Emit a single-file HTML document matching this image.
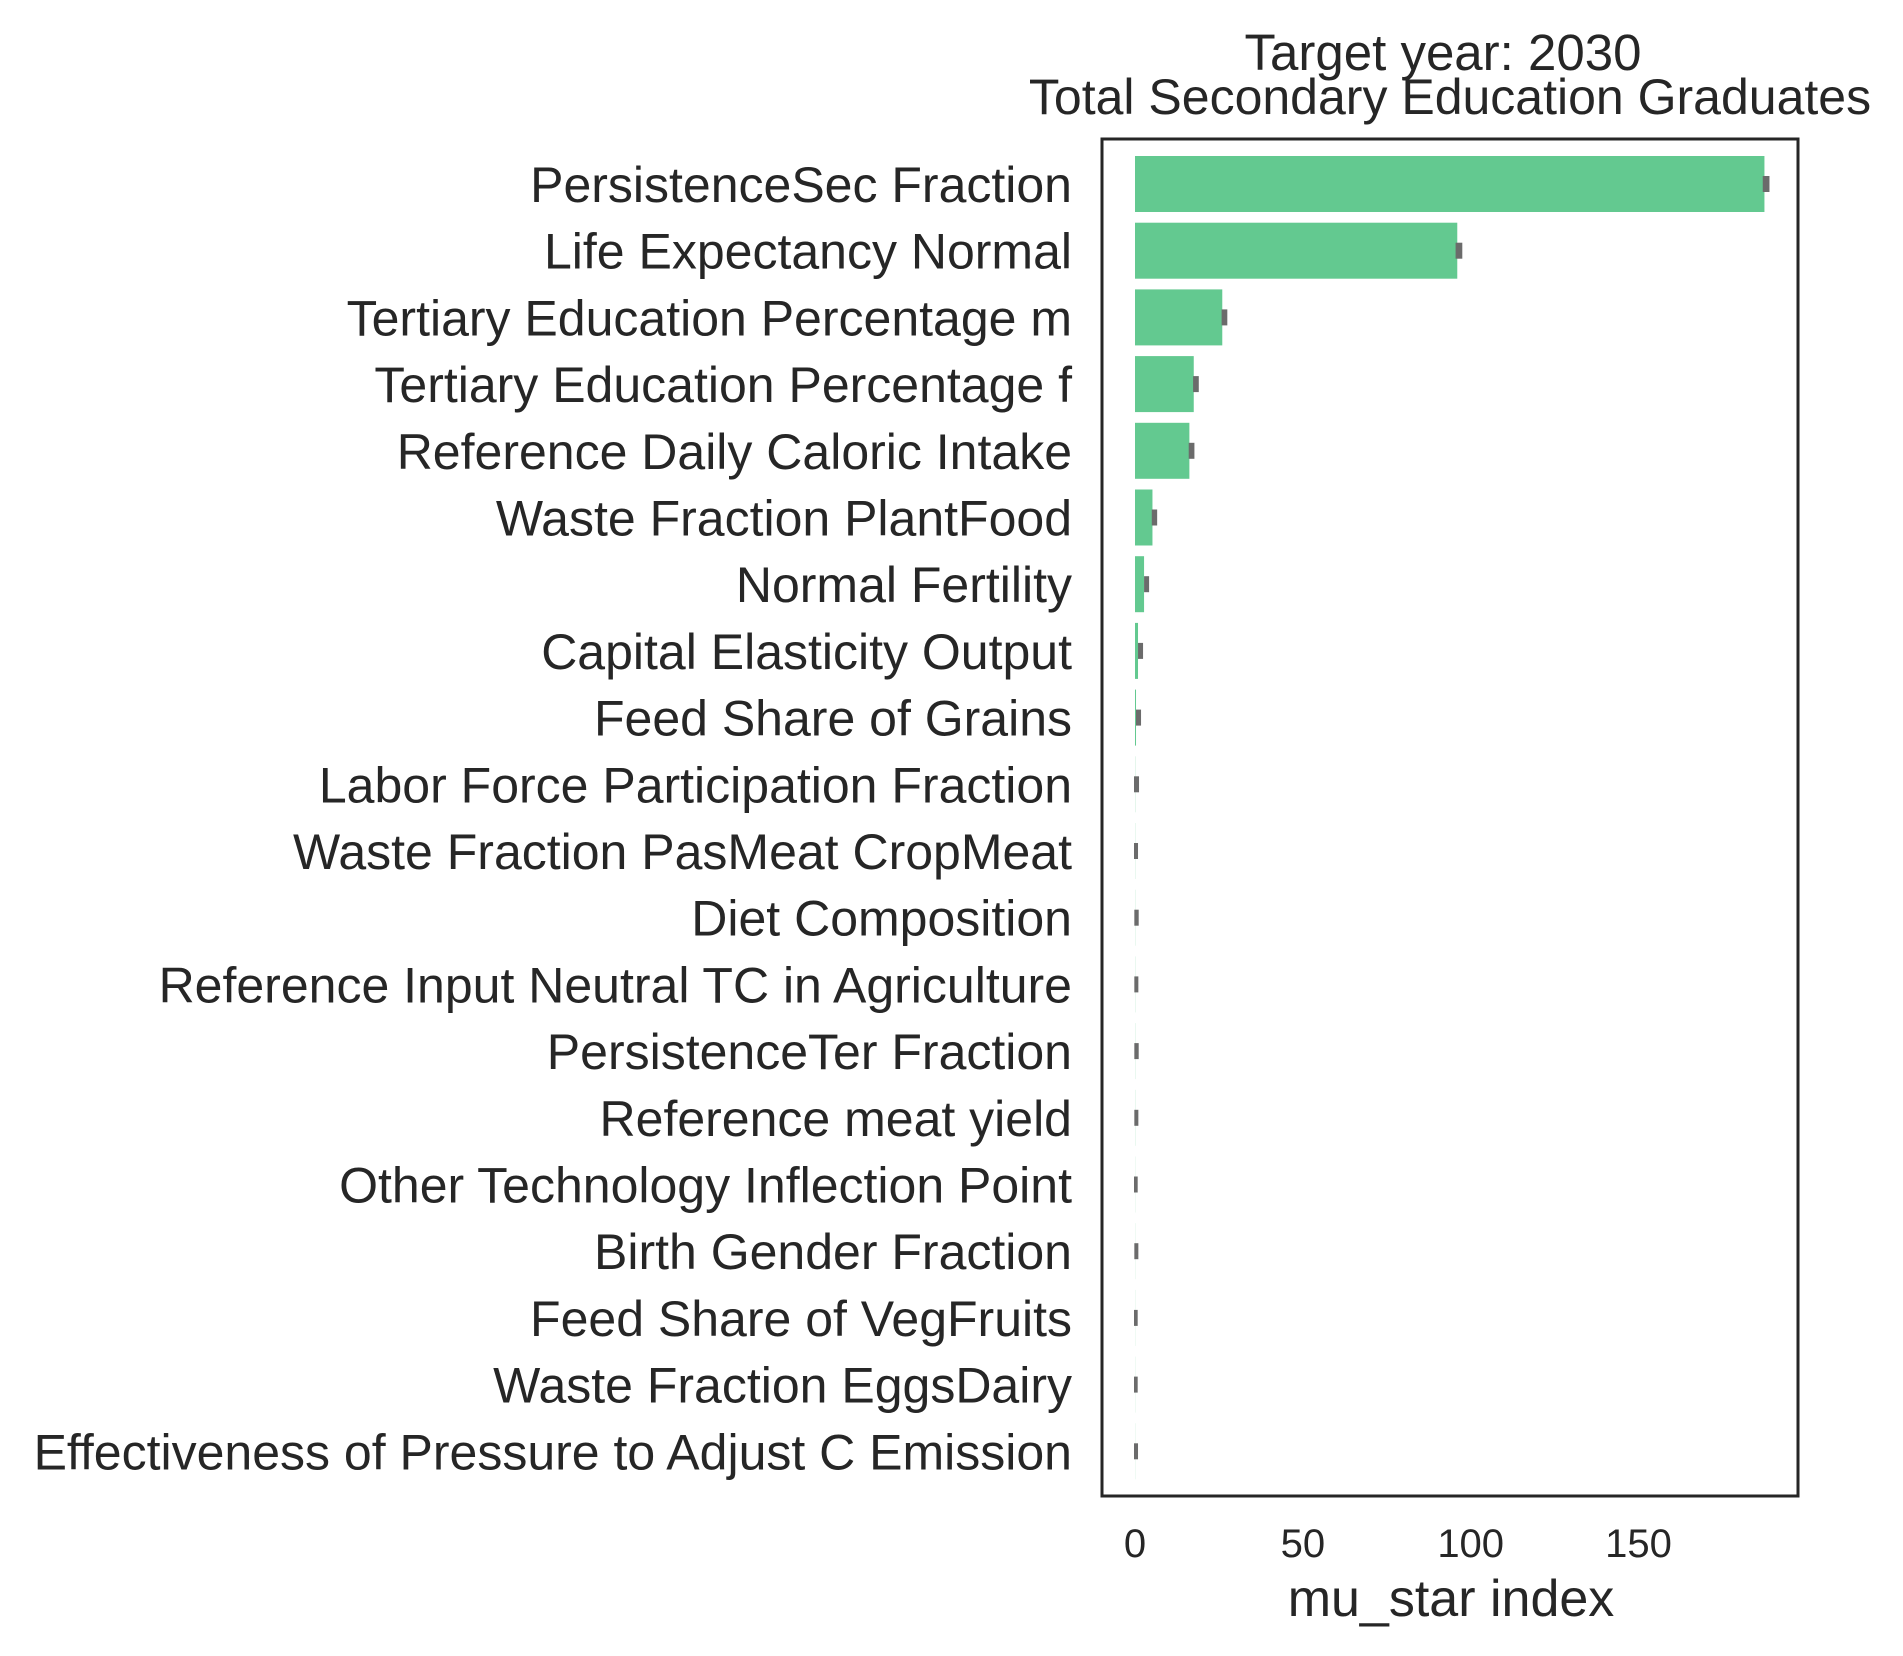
<!DOCTYPE html>
<html><head><meta charset="utf-8"><style>
html,body{margin:0;padding:0;background:#fff;}
svg{display:block;font-family:"Liberation Sans",Arial,sans-serif;}
</style></head><body>
<svg id="chart" width="1903" height="1656" viewBox="0 0 1903 1656">
<text x="1443" y="70" font-size="51" fill="#262626" text-anchor="middle">Target year: 2030</text>
<text x="1450" y="114" font-size="50" fill="#262626" text-anchor="middle">Total Secondary Education Graduates</text>
<g id="bars"></g>
<rect x="1102" y="139" width="696" height="1357" fill="none" stroke="#262626" stroke-width="3"/>
<g id="xticks"></g>
<text x="1451" y="1616" font-size="52" fill="#262626" text-anchor="middle">mu_star index</text>
</svg>
<script>
const categories = ["PersistenceSec Fraction","Life Expectancy Normal","Tertiary Education Percentage m","Tertiary Education Percentage f","Reference Daily Caloric Intake","Waste Fraction PlantFood","Normal Fertility","Capital Elasticity Output","Feed Share of Grains","Labor Force Participation Fraction","Waste Fraction PasMeat CropMeat","Diet Composition","Reference Input Neutral TC in Agriculture","PersistenceTer Fraction","Reference meat yield","Other Technology Inflection Point","Birth Gender Fraction","Feed Share of VegFruits","Waste Fraction EggsDairy","Effectiveness of Pressure to Adjust C Emission"];
const muStar = [187.5, 96, 26, 17.5, 16.2, 5.2, 2.7, 0.9, 0.3, 0.05, 0.04, 0.04, 0.04, 0.04, 0.04, 0.03, 0.03, 0.03, 0.03, 0.03];
const errLo = [187, 95.5, 25.8, 17.3, 16, 5, 2.7, 0.9, 0.3, -0.3, -0.3, -0.2, -0.2, -0.2, -0.2, -0.3, -0.2, -0.3, -0.3, -0.3];
const errHi = [189, 97.5, 27.5, 19, 17.7, 6.6, 4.2, 2.4, 1.8, 1.2, 0.9, 1.1, 1.0, 1.1, 1.0, 0.8, 1.0, 0.8, 0.8, 0.9];
const tickValues = [0, 50, 100, 150];
const tickLabels = ["0", "50", "100", "150"];

const NS = "http://www.w3.org/2000/svg";
const x0 = 1135, pxPerUnit = 3.357;
const rowTop = 184, rowStep = 66.7, barH = 56;
function xScale(v){ return x0 + v * pxPerUnit; }
function yScale(i){ return rowTop + i * rowStep; }

const gb = document.getElementById('bars');
categories.forEach((c, i) => {
  const yc = yScale(i);
  const r = document.createElementNS(NS, 'rect');
  r.setAttribute('x', xScale(0));
  r.setAttribute('y', yc - barH / 2);
  r.setAttribute('width', Math.max(0, xScale(muStar[i]) - xScale(0)));
  r.setAttribute('height', barH);
  r.setAttribute('fill', '#63c990');
  
  
  gb.appendChild(r);
  const e = document.createElementNS(NS, 'line');
  e.setAttribute('x1', xScale(errLo[i]));
  e.setAttribute('x2', xScale(errHi[i]));
  e.setAttribute('y1', yc);
  e.setAttribute('y2', yc);
  e.setAttribute('stroke', '#6b6b6b');
  e.setAttribute('stroke-width', 16);
  
  
  gb.appendChild(e);
  const t = document.createElementNS(NS, 'text');
  t.setAttribute('x', 1072);
  t.setAttribute('y', yc + 18);
  t.setAttribute('font-size', 50);
  t.setAttribute('fill', '#262626');
  t.setAttribute('text-anchor', 'end');
  t.textContent = c;
  
  
  gb.appendChild(t);
});

const gx = document.getElementById('xticks');
tickValues.forEach((v, i) => {
  const t = document.createElementNS(NS, 'text');
  t.setAttribute('x', xScale(v));
  t.setAttribute('y', 1557);
  t.setAttribute('font-size', 40);
  t.setAttribute('fill', '#262626');
  t.setAttribute('text-anchor', 'middle');
  t.textContent = tickLabels[i];
  
  
  gx.appendChild(t);
});
</script>
</body></html>
